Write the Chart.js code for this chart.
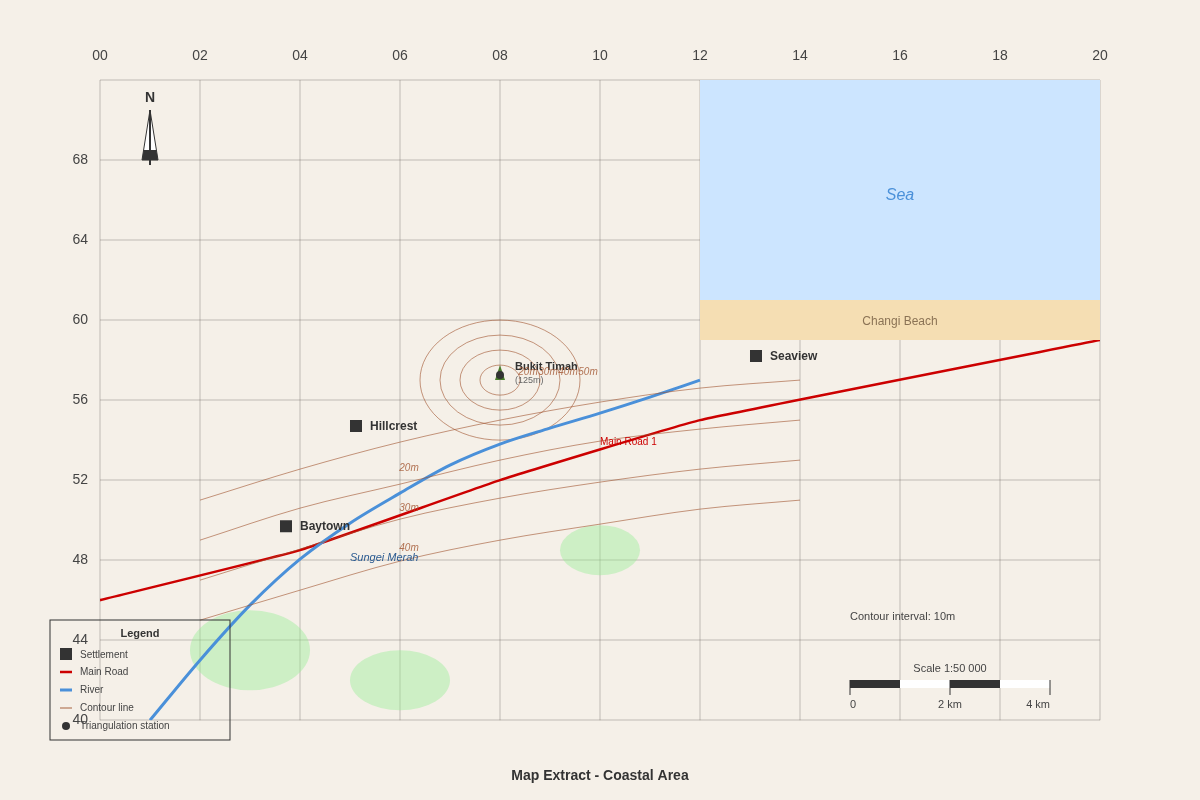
<!DOCTYPE html>
<html>
<head>
<meta charset="utf-8">
<title>Map Extract - Coastal Area</title>
<script src="https://cdn.jsdelivr.net/npm/chart.js@4/dist/chart.umd.js"></script>
<style>
  html, body { margin: 0; padding: 0; background: #f5f0e8; }
  #wrap { width: 1200px; height: 800px; }
</style>
</head>
<body>
<div id="wrap"><canvas id="map" width="1200" height="800"></canvas></div>
<script>
// grid references
var eastings = [0, 2, 4, 6, 8, 10, 12, 14, 16, 18, 20];
var eastingLabels = ["00", "02", "04", "06", "08", "10", "12", "14", "16", "18", "20"];
var northings = [40, 44, 48, 52, 56, 60, 64, 68, 72];
var northingLabels = ["40", "44", "48", "52", "56", "60", "64", "68", ""];

// sea and beach
var seaX = [12, 20];
var seaY = [72, 72];
var seaEdge = 61;
var beachX = [12, 20];
var beachY = [61, 61];
var beachEdge = 59;

// linear features
var roadX = [0, 4, 8, 12, 20];
var roadY = [46, 48.5, 52, 55, 59];
var riverX = [1, 2, 3, 4, 5, 6, 7, 8, 9, 10, 11, 12];
var riverY = [40, 43, 45.75, 48.05, 49.85, 51.35, 52.75, 53.8, 54.6, 55.35, 56.15, 57];
var contourX = [2, 4, 6, 8, 10, 12, 14];
var contour20 = [51, 52.55, 53.9, 55, 55.9, 56.6, 57];
var contour30 = [49, 50.6, 51.8, 53, 53.95, 54.55, 55];
var contour40 = [47, 48.55, 50.05, 51.1, 51.9, 52.55, 53];
var contour50 = [45, 46.5, 47.95, 49, 49.8, 50.55, 51];

// settlements
var townNames = ["Hillcrest", "Baytown", "Seaview"];
var townX = [5.12, 3.72, 13.12];
var townY = [54.7, 49.7, 58.2];

// hill ellipses around the summit, radii in grid units
var summitX = [8];
var summitY = [57];
var hillRadiusX = [0.4, 0.8, 1.2, 1.6];
var hillRadiusY = [0.75, 1.5, 2.25, 3];
var hillLabels = ["20m", "30m", "40m", "50m"];

// woodland patches
var woodX = [3, 6, 10];
var woodY = [43.5, 42, 48.5];
var woodRadiusX = [1.2, 1, 0.8];
var woodRadiusY = [2, 1.5, 1.25];

var contourLabels = ["20m", "30m", "40m"];
var contourLabelY = [52.65, 50.65, 48.65];
var legendLabels = ["Settlement", "Main Road", "River", "Contour line", "Triangulation station"];
var scaleLabels = ["0", "2 km", "4 km"];

var FONT = '"Liberation Sans", Arial, sans-serif';
var GRID = "rgba(90, 85, 75, 0.17)";
var BROWN = "#a0522d";
var LABEL_BROWN = "rgba(160, 82, 45, 0.8)";
var CONTOUR_WIDTH = 0.6;

function zip(xs, ys) {
	return xs.map(function (x, i) { return { x: x, y: ys[i] }; });
}

function lineSet(label, xs, ys, color, width, tension) {
	return {
		label: label,
		data: zip(xs, ys),
		showLine: true,
		borderColor: color,
		borderWidth: width,
		pointRadius: 0,
		tension: tension,
		fill: false
	};
}

function smoothSet(label, xs, ys, color, width) {
	var set = lineSet(label, xs, ys, color, width, 0);
	set.cubicInterpolationMode = "monotone";
	return set;
}

function areaSet(label, xs, ys, edge, color) {
	return {
		label: label,
		data: zip(xs, ys),
		showLine: true,
		borderWidth: 0,
		borderColor: color,
		backgroundColor: color,
		pointRadius: 0,
		fill: { target: { value: edge } }
	};
}

function text(ctx, str, x, y, font, color, align) {
	ctx.font = font + " " + FONT;
	ctx.fillStyle = color;
	ctx.textAlign = align || "left";
	ctx.textBaseline = "middle";
	ctx.fillText(str, x, y + 1);
}

// woodland and hill ellipses sit under the datasets
var underlay = {
	id: "underlay",
	beforeDatasetsDraw: function (chart) {
		var ctx = chart.ctx, sx = chart.scales.x, sy = chart.scales.y;
		var ux = sx.getPixelForValue(1) - sx.getPixelForValue(0);
		var uy = sy.getPixelForValue(40) - sy.getPixelForValue(41);
		ctx.save();
		ctx.fillStyle = "rgba(144, 238, 144, 0.4)";
		woodX.forEach(function (x, i) {
			ctx.beginPath();
			ctx.ellipse(sx.getPixelForValue(x), sy.getPixelForValue(woodY[i]), woodRadiusX[i] * ux, woodRadiusY[i] * uy, 0, 0, Math.PI * 2);
			ctx.fill();
		});
		ctx.strokeStyle = BROWN;
		ctx.lineWidth = CONTOUR_WIDTH;
		hillRadiusX.forEach(function (rx, i) {
			ctx.beginPath();
			ctx.ellipse(sx.getPixelForValue(summitX[0]), sy.getPixelForValue(summitY[0]), rx * ux, hillRadiusY[i] * uy, 0, 0, Math.PI * 2);
			ctx.stroke();
		});
		ctx.restore();
	}
};

// labels, north arrow, scale bar and legend go on top
var overlay = {
	id: "overlay",
	afterDatasetsDraw: function (chart) {
		var ctx = chart.ctx, sx = chart.scales.x, sy = chart.scales.y;
		var dark = "#333333";
		ctx.save();

		// summit marker
		var hx = sx.getPixelForValue(summitX[0]), hy = sy.getPixelForValue(summitY[0]);
		ctx.fillStyle = "#4a7c2c";
		ctx.beginPath();
		ctx.moveTo(hx, hy - 15);
		ctx.lineTo(hx - 5, hy);
		ctx.lineTo(hx + 5, hy);
		ctx.closePath();
		ctx.fill();
		ctx.fillStyle = dark;
		ctx.beginPath();
		ctx.arc(hx, hy - 5, 4, 0, Math.PI * 2);
		ctx.fill();

		text(ctx, "Sea", sx.getPixelForValue(16), sy.getPixelForValue(66.25), "italic 16px", "#4a90d9", "center");
		text(ctx, "Changi Beach", sx.getPixelForValue(16), sy.getPixelForValue(59.95), "12px", "#8b7355", "center");

		townNames.forEach(function (name, i) {
			text(ctx, name, sx.getPixelForValue(townX[i]) + 14, sy.getPixelForValue(townY[i]), "bold 12px", dark);
		});

		text(ctx, "Bukit Timah", hx + 15, hy - 14, "bold 11px", dark);
		text(ctx, "(125m)", hx + 15, hy - 1, "9px", "#666666");
		hillLabels.forEach(function (label, i) {
			text(ctx, label, sx.getPixelForValue(summitX[0] + hillRadiusX[i]) + 8, hy - 9, "italic 10px", LABEL_BROWN, "center");
		});

		contourLabels.forEach(function (label, i) {
			text(ctx, label, sx.getPixelForValue(6.18), sy.getPixelForValue(contourLabelY[i]), "italic 10px", LABEL_BROWN, "center");
		});

		text(ctx, "Main Road 1", sx.getPixelForValue(10), sy.getPixelForValue(53.95), "10px", "#cc0000");
		text(ctx, "Sungei Merah", sx.getPixelForValue(5), sy.getPixelForValue(48.15), "italic 11px", "#2a5a90");

		// north arrow
		var nx = sx.getPixelForValue(1), ny = sy.getPixelForValue(70.5);
		text(ctx, "N", nx, ny - 13, "bold 14px", dark, "center");
		ctx.fillStyle = "#ffffff";
		ctx.strokeStyle = dark;
		ctx.lineWidth = 1;
		ctx.beginPath();
		ctx.moveTo(nx, ny);
		ctx.lineTo(nx - 8, ny + 50);
		ctx.lineTo(nx + 8, ny + 50);
		ctx.closePath();
		ctx.fill();
		ctx.stroke();
		ctx.fillStyle = dark;
		ctx.beginPath();
		ctx.moveTo(nx - 6.4, ny + 40);
		ctx.lineTo(nx - 8, ny + 50);
		ctx.lineTo(nx + 8, ny + 50);
		ctx.lineTo(nx + 6.4, ny + 40);
		ctx.closePath();
		ctx.fill();
		ctx.fillRect(nx - 1, ny, 2, 55);

		// scale bar
		var bx = 850, by = 680;
		text(ctx, "Contour interval: 10m", bx, 616, "11px", "#444444");
		text(ctx, "Scale 1:50 000", bx + 100, 668, "11px", "#444444", "center");
		ctx.fillStyle = dark;
		ctx.fillRect(bx, by, 50, 8);
		ctx.fillRect(bx + 100, by, 50, 8);
		ctx.fillStyle = "#ffffff";
		ctx.fillRect(bx + 50, by, 50, 8);
		ctx.fillRect(bx + 150, by, 50, 8);
		ctx.strokeStyle = dark;
		ctx.lineWidth = 1;
		[0, 100, 200].forEach(function (d) {
			ctx.beginPath();
			ctx.moveTo(bx + d, by);
			ctx.lineTo(bx + d, by + 15);
			ctx.stroke();
		});
		text(ctx, scaleLabels[0], bx, 704, "11px", "#444444");
		text(ctx, scaleLabels[1], bx + 100, 704, "11px", "#444444", "center");
		text(ctx, scaleLabels[2], bx + 200, 704, "11px", "#444444", "right");

		// legend box
		ctx.strokeStyle = dark;
		ctx.lineWidth = 1;
		ctx.strokeRect(50, 620, 180, 120);
		text(ctx, "Legend", 140, 633, "bold 11px", dark, "center");
		var rows = [654, 671, 689, 707, 725];
		legendLabels.forEach(function (label, i) {
			text(ctx, label, 80, rows[i], "10px", "#444444");
		});
		ctx.fillStyle = dark;
		ctx.fillRect(60, 648, 12, 12);
		ctx.fillStyle = "#cc0000";
		ctx.fillRect(60, 670.75, 12, 2.5);
		ctx.fillStyle = "#4a90d9";
		ctx.fillRect(60, 688.5, 12, 3);
		ctx.fillStyle = "rgba(160, 82, 45, 0.45)";
		ctx.fillRect(60, 707, 12, 2);
		ctx.fillStyle = dark;
		ctx.beginPath();
		ctx.arc(66, 726, 4, 0, Math.PI * 2);
		ctx.fill();

		ctx.restore();
	}
};

new Chart(document.getElementById("map"), {
	type: "scatter",
	data: {
		datasets: [
			areaSet("Sea", seaX, seaY, seaEdge, "#cce5ff"),
			areaSet("Beach", beachX, beachY, beachEdge, "#f5deb3"),
			smoothSet("Contour 20m", contourX, contour20, BROWN, CONTOUR_WIDTH),
			smoothSet("Contour 30m", contourX, contour30, BROWN, CONTOUR_WIDTH),
			smoothSet("Contour 40m", contourX, contour40, BROWN, CONTOUR_WIDTH),
			smoothSet("Contour 50m", contourX, contour50, BROWN, CONTOUR_WIDTH),
			smoothSet("River", riverX, riverY, "#4a90d9", 3),
			lineSet("Main Road", roadX, roadY, "#cc0000", 2.5, 0.1),
			{
				label: "Settlement",
				data: zip(townX, townY),
				pointStyle: "rect",
				pointRadius: 8.49,
				backgroundColor: "#333333",
				borderWidth: 0
			}
		]
	},
	options: {
		responsive: false,
		animation: false,
		plugins: {
			legend: { display: false },
			tooltip: { enabled: false },
			title: {
				display: true,
				text: "Map Extract - Coastal Area",
				position: "bottom",
				color: "#333333",
				font: { family: FONT, size: 14, weight: "bold" },
				padding: { top: 48, bottom: 15 }
			}
		},
		scales: {
			x: {
				type: "linear",
				position: "top",
				min: 0,
				max: 20,
				afterFit: function (s) { s.height = 80; },
				afterBuildTicks: function (s) { s.ticks = eastings.map(function (v) { return { value: v }; }); },
				grid: { color: GRID, lineWidth: 2, drawTicks: false },
				border: { display: false },
				ticks: {
					autoSkip: false,
					maxRotation: 0,
					padding: 15,
					color: "#444444",
					font: { family: FONT, size: 14 },
					callback: function (v) { return eastingLabels[eastings.indexOf(v)]; }
				}
			},
			y: {
				type: "linear",
				min: 40,
				max: 72,
				afterFit: function (s) { s.width = 100; },
				afterBuildTicks: function (s) { s.ticks = northings.map(function (v) { return { value: v }; }); },
				grid: { color: GRID, lineWidth: 2, drawTicks: false },
				border: { display: false },
				ticks: {
					autoSkip: false,
					padding: 12,
					color: "#444444",
					font: { family: FONT, size: 14 },
					callback: function (v) { return northingLabels[northings.indexOf(v)]; }
				}
			},
			// empty right margin, keeps the plot and title centred
			margin: {
				type: "linear",
				position: "right",
				min: 40,
				max: 72,
				afterFit: function (s) { s.width = 100; },
				grid: { display: false },
				border: { display: false },
				ticks: { display: false }
			}
		}
	},
	plugins: [underlay, overlay]
});
</script>
</body>
</html>
